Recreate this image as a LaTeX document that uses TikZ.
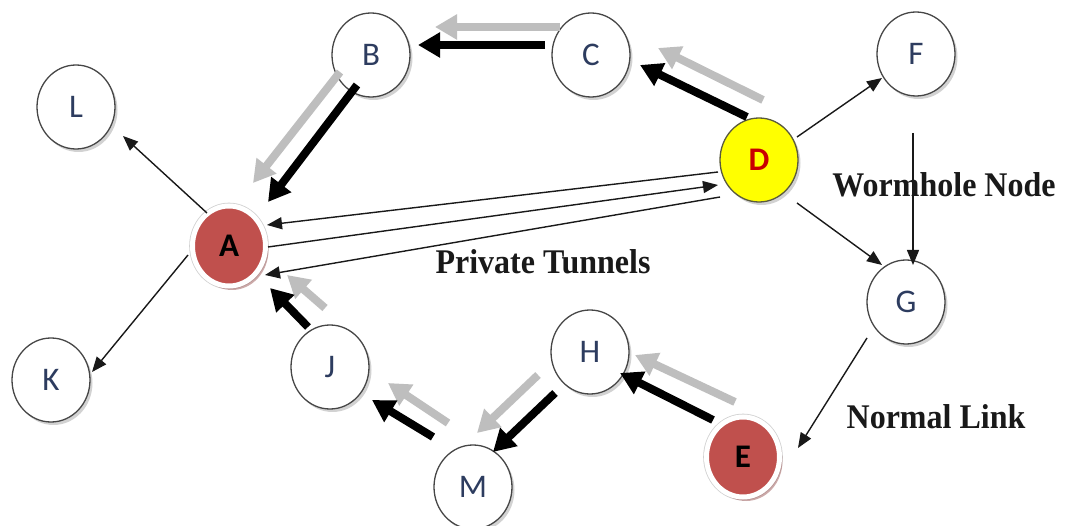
\documentclass[tikz,border=0pt]{standalone}
\usepackage{fontspec}
\setmainfont{Liberation Serif}
\newfontfamily\nodefont{Carlito}
\usetikzlibrary{arrows.meta,shapes.geometric,shadows,calc}

\definecolor{nodeink}{RGB}{45,60,95}
\definecolor{attacker}{RGB}{192,80,77}
\definecolor{wormhole}{RGB}{255,255,0}
\definecolor{wormink}{RGB}{200,0,0}
\definecolor{flowgray}{RGB}{190,190,190}
\definecolor{rim}{RGB}{70,70,70}

\begin{document}
\begin{tikzpicture}[x=1pt,y=-1pt,
  plain/.style={ellipse, minimum width=78pt, minimum height=84pt, inner sep=0pt,
    draw=rim, line width=1.3pt, fill=white,
    drop shadow={shadow xshift=2.5pt, shadow yshift=-3pt, opacity=0.35},
    font=\nodefont\fontsize{33}{33}\selectfont, text=nodeink},
  bad/.style={ellipse, minimum width=73pt, minimum height=80pt, inner sep=0pt,
    fill=attacker, draw=white, line width=5pt,
    preaction={draw=black!18, line width=6.6pt},
    drop shadow={shadow xshift=3pt, shadow yshift=-4pt, fill=attacker!55!gray, opacity=0.55},
    font=\nodefont\bfseries\fontsize{33}{33}\selectfont, text=black},
  worm/.style={ellipse, minimum width=78pt, minimum height=84pt, inner sep=0pt,
    fill=wormhole, draw={rgb,255:red,90;green,90;blue,60}, line width=1.3pt,
    drop shadow={shadow xshift=2.5pt, shadow yshift=-3pt, opacity=0.35},
    font=\nodefont\bfseries\fontsize{33}{33}\selectfont, text=wormink},
  caption/.style={inner sep=0pt, font=\bfseries\fontsize{32}{36}\selectfont, text=black!90},
  flow/.style={line width=8pt, -{Triangle[length=22pt,width=24pt]}, draw=black},
  echo/.style={flow, draw=flowgray},
  link/.style={line width=1.4pt, -{Triangle[length=15pt,width=12pt]}, draw=black!90},
]
\fill[white] (0,0) rectangle (1066,526);
\useasboundingbox (0,0) rectangle (1066,526);

% nodes
\node[plain] (B) at (371,55)  {B};
\node[plain] (C) at (591,55)  {C};
\node[plain] (L) at (76,107)  {L};
\node[plain] (F) at (916,54)  {F};
\node[worm]  (D) at (759,160) {D};
\node[bad]   (A) at (229,246) {A};
\node[plain] (G) at (906,302) {G};
\node[plain] (K) at (51,380)  {K};
\node[plain] (J) at (330,367) {J};
\node[plain] (H) at (590,352) {H};
\node[plain] (M) at (473,487) {M};
\node[bad]   (E) at (743,457) {E};

% captions
\node[caption] (wormtext) at (944,185) {\scalebox{1}[1.08]{Wormhole Node}};
\node[caption] (tunneltext) at (543,262) {\scalebox{1}[1.08]{Private Tunnels}};
\node[caption] (linktext) at (936,417) {\scalebox{1}[1.08]{Normal Link}};

% forwarded traffic: black route with grey companion
\draw[echo] ($(C)+(-31,-28)$) -- ($(B)+(64,-28)$);
\draw[flow] ($(C)+(-46,-10)$) -- ($(B)+(47,-10)$);
\draw[echo] ($(B)+(-31,17)$) -- ($(A)+(24,-63)$);
\draw[flow] ($(B)+(-14,30)$) -- ($(A)+(39,-44)$);
\draw[echo] ($(D)+(4,-60)$) -- ($(C)+(67,-7)$);
\draw[flow] ($(D)+(-12,-43)$) -- ($(C)+(49,10)$);
\draw[echo] ($(E)+(-8,-55)$) -- ($(H)+(45,3)$);
\draw[flow] ($(E)+(-30,-37)$) -- ($(H)+(30,21)$);
\draw[echo] ($(H)+(-52,23)$) -- ($(M)+(4,-54)$);
\draw[flow] ($(H)+(-35,41)$) -- ($(M)+(20,-35)$);
\draw[echo] ($(M)+(-25,-64)$) -- ($(J)+(58,16)$);
\draw[flow] ($(M)+(-40,-50)$) -- ($(J)+(42,33)$);
\draw[echo] ($(J)+(-5,-59)$) -- ($(A)+(58,29)$);
\draw[flow] ($(J)+(-22,-40)$) -- ($(A)+(41,42)$);

% normal links
\draw[link] ($(A)+(-22,-33)$) -- ($(L)+(47,29)$);
\draw[link] ($(A)+(-41,9)$) -- ($(K)+(41,-8)$);
\draw[link] ($(D)+(38,-23)$) -- ($(F)+(-34,24)$);
\draw[link] ($(D)+(38,43)$) -- ($(G)+(-24,-37)$);
\draw[link] ($(F)+(-3,79)$) -- ($(G)+(7,-37)$);
\draw[link] ($(G)+(-39,36)$) -- ($(E)+(55,-9)$);

% private tunnels between A and D
\draw[link] ($(D)+(-41,12)$) -- ($(A)+(38,-21)$);
\draw[link] ($(A)+(39,1)$) -- ($(D)+(-41,25)$);
\draw[link] ($(D)+(-39,37)$) -- ($(A)+(36,29)$);
\end{tikzpicture}
\end{document}
